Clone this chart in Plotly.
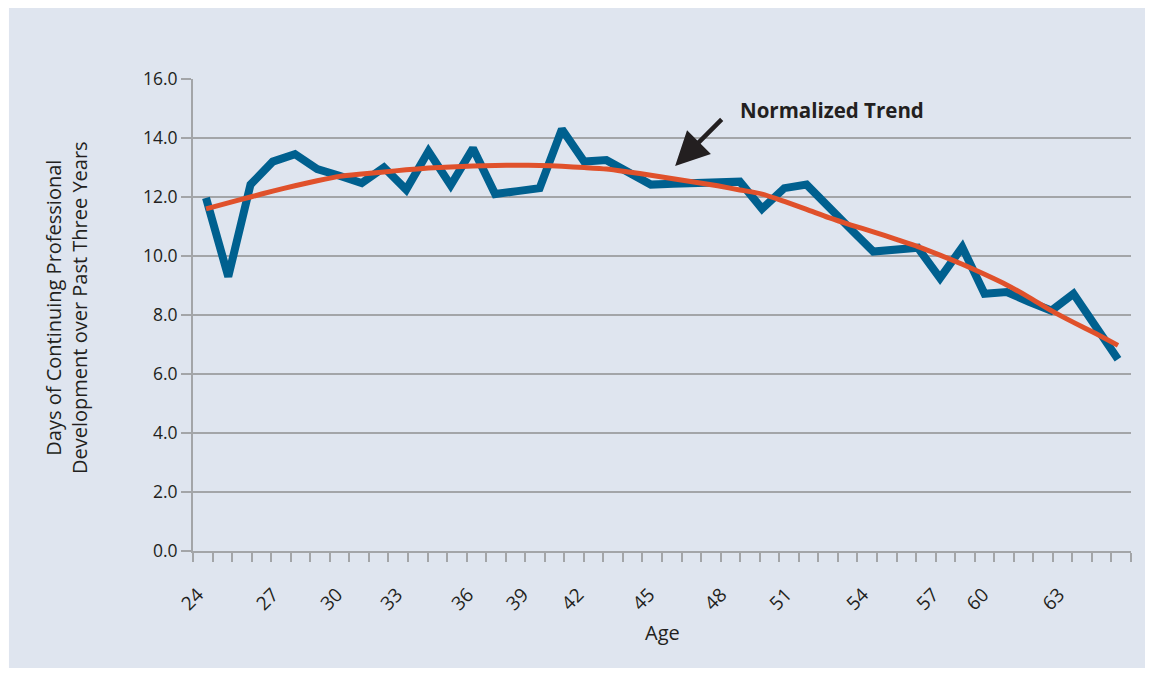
import plotly.graph_objects as go

# ---- data ----
ages = list(range(24, 66))
days = [11.97, 9.3, 12.42, 13.2, 13.45, 12.95, 12.72, 12.47, 13.0, 12.25,
        13.55, 12.4, 13.65, 12.1, 12.2, 12.3, 14.3, 13.2, 13.25, 12.8,
        12.42, 12.45, 12.48, 12.5, 12.52, 11.6, 12.3, 12.42, 11.7, 10.9,
        10.15, 10.22, 10.28, 9.25, 10.3, 8.72, 8.78, 8.45, 8.15, 8.72,
        7.6, 6.5]
trend = [11.6, 11.8, 12.0, 12.2, 12.38, 12.55, 12.7, 12.78, 12.85, 12.92,
         12.98, 13.02, 13.05, 13.07, 13.08, 13.07, 13.04, 13.0, 12.95, 12.85,
         12.74, 12.62, 12.5, 12.38, 12.24, 12.1, 11.85, 11.58, 11.3, 11.05,
         10.82, 10.57, 10.32, 10.03, 9.72, 9.38, 9.02, 8.6, 8.15, 7.75,
         7.37, 6.97]
tick_labels = ["24", "27", "30", "33", "36", "39", "42", "45", "48", "51",
               "54", "57", "60", "63"]
tick_label_pos = [23.64, 27.01, 29.89, 32.59, 35.78, 38.25, 40.73, 43.92,
                  47.16, 50.08, 53.54, 56.69, 58.94, 62.35]
y_ticks = [0, 2, 4, 6, 8, 10, 12, 14, 16]

PANEL = "#DFE5EF"
GRID = "#A3A5A8"
TXT = "#231F20"
FONT = "Open Sans"

fig = go.Figure()
fig.add_trace(go.Scatter(x=ages, y=days, mode="lines",
                         line=dict(color="#00608F", width=8),
                         hoverinfo="skip", showlegend=False))
fig.add_trace(go.Scatter(x=ages, y=trend, mode="lines",
                         line=dict(color="#E0512B", width=5, shape="spline", smoothing=0.6),
                         hoverinfo="skip", showlegend=False))

fig.update_layout(
    width=1145, height=667,
    margin=dict(l=185, r=22, t=71, b=124),
    paper_bgcolor="white", plot_bgcolor=PANEL,
    font=dict(family=FONT, color=TXT, size=17),
    shapes=[dict(type="rect", xref="paper", yref="paper",
                 x0=-0.1962, x1=1.0181, y0=-0.2479, y1=1.1547,
                 fillcolor=PANEL, line=dict(width=0), layer="below")],
    xaxis=dict(range=[23.415, 65.585], tickmode="array",
               tickvals=tick_label_pos, ticktext=tick_labels,
               tickangle=-45, ticks="outside", ticklen=23,
               tickcolor="rgba(0,0,0,0)", showgrid=False, zeroline=False,
               showline=True, linecolor=GRID, linewidth=2,
               tickfont=dict(size=19, color=TXT),
               minor=dict(ticks="outside", ticklen=9, tickcolor=GRID,
                          tickwidth=1.5, tick0=23.415, dtick=0.87854,
                          showgrid=False)),
    yaxis=dict(range=[0, 16], tickmode="array", tickvals=y_ticks,
               tickformat=".1f", ticks="outside", ticklen=10,
               tickcolor=GRID, tickwidth=1.5, showgrid=True,
               gridcolor=GRID, gridwidth=1.5, zeroline=False,
               showline=True, linecolor=GRID, linewidth=2,
               tickfont=dict(size=17.5, color=TXT)),
    annotations=[
        dict(xref="paper", yref="paper", x=-0.1343, y=0.515,
             text="Days of Continuing Professional<br>Development over Past Three Years",
             textangle=-90, showarrow=False, xanchor="center", yanchor="middle",
             font=dict(size=20, color=TXT, family=FONT)),
        dict(xref="paper", yref="paper", x=0.5, y=-0.1737, text="Age",
             showarrow=False, xanchor="center", yanchor="middle",
             font=dict(size=20, color=TXT, family=FONT)),
        dict(x=45.09, y=13.05, ax=47.25, ay=14.68, axref="x", ayref="y",
             xref="x", yref="y", text="", showarrow=True, arrowhead=2,
             arrowsize=1.5, arrowwidth=4.5, arrowcolor=TXT),
        dict(xref="x", yref="y", x=47.9, y=14.96, text="<b>Normalized Trend</b>",
             showarrow=False, xanchor="left", yanchor="middle",
             font=dict(size=20.5, color=TXT, family=FONT)),
    ],
)

fig.write_html("out.html")
